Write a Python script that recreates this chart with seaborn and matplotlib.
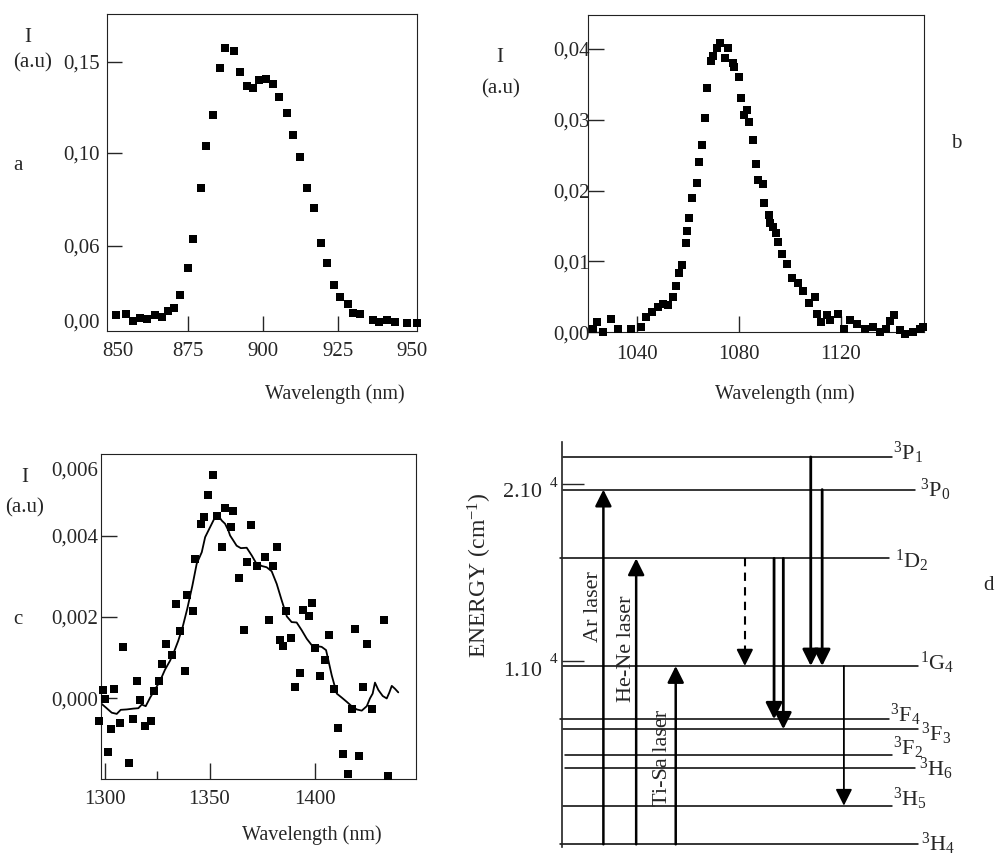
import seaborn as sns
import matplotlib.pyplot as plt

W, H = 996, 858

# ---- panel a : emission 850-950 nm
a_wl = [851.0, 854.3, 856.8, 859.0, 861.2, 864.0, 866.2, 868.4, 870.3, 872.3,
        874.9, 876.8, 879.2, 880.9, 883.4, 885.7, 887.2, 890.2, 892.3, 894.6,
        896.6, 898.8, 901.0, 903.4, 905.4, 907.9, 910.1, 912.3, 914.6, 917.1,
        919.2, 921.4, 923.8, 925.7, 928.2, 930.1, 932.3, 936.6, 938.8, 941.2,
        944.0, 947.9, 951.2]
a_int = [0.0110, 0.0115, 0.0079, 0.0095, 0.0090, 0.0110, 0.0097, 0.0130, 0.0150, 0.0218,
         0.0370, 0.0530, 0.0806, 0.1040, 0.1210, 0.1465, 0.1575, 0.1560, 0.1445, 0.1370,
         0.1360, 0.1400, 0.1405, 0.1377, 0.1310, 0.1220, 0.1097, 0.0980, 0.0806, 0.0696,
         0.0507, 0.0397, 0.0275, 0.0207, 0.0170, 0.0123, 0.0115, 0.0082, 0.0070, 0.0082,
         0.0070, 0.0064, 0.0064]
a_yticks = [0.049, 0.10, 0.15]
a_ylabels = ["0,06", "0,10", "0,15"]

# ---- panel b : emission around 1080 nm
b_wl = [1023.0, 1024.6, 1026.7, 1029.9, 1032.5, 1037.8, 1041.7, 1043.5, 1046.1, 1048.5,
        1050.4, 1052.4, 1054.1, 1055.4, 1056.6, 1057.6, 1059.3, 1059.8, 1060.5, 1061.8,
        1063.5, 1064.5, 1065.5, 1066.8, 1067.7, 1069.1, 1070.0, 1071.4, 1072.7, 1074.6,
        1075.9, 1077.9, 1078.3, 1080.1, 1080.8, 1082.2, 1083.1, 1084.2, 1085.5, 1086.8,
        1087.7, 1089.6, 1089.9, 1091.9, 1092.3, 1093.6, 1094.5, 1095.5, 1096.9, 1098.8,
        1101.0, 1103.1, 1105.3, 1107.6, 1109.9, 1110.6, 1112.2, 1114.5, 1115.8, 1119.1,
        1121.4, 1123.6, 1126.3, 1129.5, 1132.8, 1135.4, 1137.8, 1139.3, 1140.9, 1143.3,
        1145.2, 1148.5, 1151.1, 1152.4]
b_int = [0.0005, 0.0015, 0.0001, 0.0019, 0.0004, 0.0005, 0.0008, 0.0022, 0.0028, 0.0036,
         0.0040, 0.0038, 0.0050, 0.0066, 0.0084, 0.0095, 0.0126, 0.0143, 0.0161, 0.0189,
         0.0211, 0.0241, 0.0264, 0.0303, 0.0345, 0.0383, 0.0390, 0.0401, 0.0408, 0.0387,
         0.0401, 0.0380, 0.0375, 0.0360, 0.0331, 0.0307, 0.0314, 0.0297, 0.0272, 0.0237,
         0.0215, 0.0209, 0.0183, 0.0166, 0.0155, 0.0149, 0.0140, 0.0128, 0.0111, 0.0097,
         0.0077, 0.0069, 0.0058, 0.0041, 0.0050, 0.0026, 0.0014, 0.0024, 0.0017, 0.0026,
         0.0005, 0.0017, 0.0012, 0.0005, 0.0008, 0.0000, 0.0005, 0.0016, 0.0024, 0.0003,
         -0.0002, 0.0001, 0.0004, 0.0007]
b_yticks = [0.0, 0.01, 0.02, 0.03, 0.04]
b_ylabels = ["0,00", "0,01", "0,02", "0,03", "0,04"]

# ---- panel c : weak emission around 1350 nm + smoothed curve
c_wl = [1297.4, 1299.4, 1300.4, 1301.8, 1303.1, 1304.7, 1307.4, 1308.7, 1311.7, 1313.4,
        1315.5, 1317.1, 1319.4, 1322.3, 1323.6, 1326.0, 1327.5, 1329.1, 1332.3, 1334.2,
        1336.0, 1338.3, 1339.4, 1342.3, 1343.2, 1346.0, 1347.5, 1349.4, 1351.5, 1353.7,
        1356.1, 1357.5, 1360.1, 1361.0, 1363.9, 1366.6, 1367.9, 1369.6, 1372.8, 1376.4,
        1378.3, 1380.4, 1382.1, 1383.6, 1384.9, 1386.4, 1388.8, 1390.6, 1393.0, 1394.7,
        1397.4, 1398.7, 1400.4, 1402.6, 1405.1, 1407.0, 1409.1, 1411.3, 1413.4, 1415.8,
        1417.7, 1419.1, 1421.2, 1423.0, 1425.0, 1427.5, 1432.9, 1435.1]
c_int = [-0.00056, 0.00021, -0.00003, -0.00132, -0.00076, 0.00023, -0.00061, 0.00125, -0.00159, -0.00052,
         0.00042, -0.00005, -0.00070, -0.00056, 0.00017, 0.00042, 0.00083, 0.00132, 0.00106, 0.00231,
         0.00166, 0.00066, 0.00253, 0.00214, 0.00343, 0.00429, 0.00445, 0.00500, 0.00549, 0.00447,
         0.00371, 0.00468, 0.00420, 0.00460, 0.00295, 0.00167, 0.00334, 0.00426, 0.00324, 0.00348,
         0.00193, 0.00324, 0.00373, 0.00142, 0.00129, 0.00214, 0.00148, 0.00028, 0.00062, 0.00216,
         0.00201, 0.00235, 0.00124, 0.00055, 0.00093, 0.00156, 0.00023, -0.00074, -0.00137, -0.00187,
         -0.00028, 0.00171, -0.00142, 0.00028, 0.00132, -0.00028, 0.00193, -0.00191]
c_fit_wl = [1298.3, 1301.0, 1303.4, 1305.8, 1307.7, 1310.6, 1313.7, 1316.1, 1317.7, 1319.6,
            1321.7, 1324.0, 1326.4, 1328.8, 1331.2, 1333.1, 1335.1, 1337.2, 1339.4, 1341.8,
            1343.9, 1346.3, 1347.9, 1350.2, 1352.6, 1354.2, 1355.8, 1357.4, 1359.0, 1359.8,
            1361.3, 1362.9, 1364.9, 1367.7, 1370.1, 1372.1, 1374.9, 1377.2, 1379.6, 1382.0,
            1384.4, 1386.8, 1389.1, 1391.5, 1393.9, 1396.3, 1398.7, 1401.0, 1403.4, 1405.5,
            1406.6, 1408.2, 1410.6, 1413.0, 1415.3, 1417.7, 1420.1, 1422.5, 1424.9, 1426.4,
            1427.7, 1428.8, 1430.4, 1432.5, 1434.4, 1435.6, 1436.8, 1438.3, 1439.9]
c_fit_int = [-0.00013, -0.00025, -0.00036, -0.00039, -0.00029, -0.00028, -0.00026, -0.00025, -0.00016, -0.00020,
             0.00001, 0.00021, 0.00042, 0.00070, 0.00092, 0.00114, 0.00141, 0.00175, 0.00220, 0.00276,
             0.00331, 0.00359, 0.00396, 0.00420, 0.00445, 0.00449, 0.00437, 0.00429, 0.00412, 0.00400,
             0.00388, 0.00375, 0.00369, 0.00370, 0.00351, 0.00333, 0.00325, 0.00322, 0.00312, 0.00281,
             0.00240, 0.00201, 0.00187, 0.00186, 0.00167, 0.00146, 0.00130, 0.00128, 0.00126, 0.00118,
             0.00093, 0.00056, 0.00011, 0.00001, -0.00009, -0.00020, -0.00028, -0.00031, -0.00020, -0.00001,
             0.00011, 0.00038, 0.00020, 0.00005, -0.00001, 0.00013, 0.00030, 0.00023, 0.00014]
c_yticks = [0.0, 0.002, 0.004]
c_ylabels = ["0,000", "0,002", "0,004"]

# ---- panel d : energy levels (cm-1)
lvl_names = ["$^{3}$P$_{1}$", "$^{3}$P$_{0}$", "$^{1}$D$_{2}$", "$^{1}$G$_{4}$", "$^{3}$F$_{4}$",
             "$^{3}$F$_{3}$", "$^{3}$F$_{2}$", "$^{3}$H$_{6}$", "$^{3}$H$_{5}$", "$^{3}$H$_{4}$"]
lvl_energy = [21550, 19700, 15800, 9700, 6680, 6110, 4650, 3930, 1780, -410]
lvl_start = [0.3, 0.3, -0.5, 0.3, -0.5, 0.3, 0.9, 0.9, 0.3, -0.5]
lvl_end = [92.6, 99.2, 91.9, 100, 91.9, 100, 92.6, 99.2, 92.6, 100]
# nudge of each level name, in pixels (positive = up / right)
lvl_dy = [4, 0, -3, 3, 4, -5, 7, -1, 7, 0]
lvl_dx = [1, 5, 6, 2, 1, 3, 1, 4, 1, 3]

lasers = ["Ar laser", "He-Ne laser", "Ti-Sa laser"]
laser_x = [11.7, 20.9, 32.0]
laser_to = [1, 2, 3]          # index into levels, all start on 3H4
laser_lab_x = [8.9, 18.2, 28.3]
laser_lab_y = [13061, 10703, 4467]

emis_x = [51.4, 59.6, 62.2, 69.9, 73.1, 79.2]
emis_from = [2, 2, 2, 0, 1, 3]
emis_to = [3, 4, 5, 3, 3, 8]

sns.set_style("ticks")
plt.rcParams['font.family'] = ['Liberation Serif', 'DejaVu Serif']
plt.rcParams['mathtext.fontset'] = 'custom'
plt.rcParams['mathtext.rm'] = 'Liberation Serif'
plt.rcParams['mathtext.it'] = 'Liberation Serif:italic'
plt.rcParams['axes.edgecolor'] = '#222222'

fig = plt.figure(figsize=(W / 100, H / 100), dpi=100)


def ftext(px, py, s, **kw):
    kw.setdefault('ha', 'center')
    kw.setdefault('va', 'center')
    kw.setdefault('fontsize', 15)
    fig.text(px / W, 1 - py / H, s, **kw)


def box(l, t, r, b):
    return fig.add_axes([l / W, 1 - b / H, (r - l) / W, (b - t) / H])


TS = 15
MS = 38

# ---------------- a
ax = box(107, 14, 416.7, 331)
sns.scatterplot(x=a_wl, y=a_int, marker='s', s=MS, color='black', linewidth=0,
                ax=ax, clip_on=False, zorder=3)
ax.set_xlim(848, 951.2)
ax.set_ylim(0.0022, 0.1764)
ax.set_xticks([875, 900, 925])
ax.set_xticks([851.5, 949.5], ["850", "950"], minor=True)
ax.set_yticks(a_yticks, a_ylabels)
ax.set_yticks([0.008], ["0,00"], minor=True)
ax.tick_params(which='major', direction='in', length=11, width=1, labelsize=TS, pad=8)
ax.tick_params(which='minor', length=0, labelsize=TS, pad=8)
ax.tick_params(axis='y', which='both', pad=5)
ftext(28, 38, "I")
ftext(33, 63, "(a.u)")
ftext(18, 166, "a")
ftext(335, 394, "Wavelength (nm)", fontsize=14.5)

# ---------------- b
ax = box(588.3, 15, 924.3, 332.3)
sns.scatterplot(x=b_wl, y=b_int, marker='s', s=MS - 4, color='black', linewidth=0,
                ax=ax, clip_on=False, zorder=3)
ax.set_xlim(1021.0, 1152.8)
ax.set_ylim(0, 0.0448)
ax.set_xticks([1040, 1080, 1120])
ax.set_yticks(b_yticks, b_ylabels)
ax.tick_params(direction='in', length=11.5, width=1, labelsize=TS)
ax.tick_params(axis='x', pad=9)
ax.tick_params(axis='y', pad=-1)
ftext(500, 58, "I")
ftext(501, 89, "(a.u)")
ftext(956, 143, "b")
ftext(785, 394, "Wavelength (nm)", fontsize=14.5)

# ---------------- c
ax = box(101, 454.3, 415.7, 779.3)
sns.scatterplot(x=c_wl, y=c_int, marker='s', s=MS, color='black', linewidth=0,
                ax=ax, clip_on=False, zorder=3)
sns.lineplot(x=c_fit_wl, y=c_fit_int, color='black', lw=1.3, ax=ax,
             estimator=None, sort=False)
ax.set_xlim(1298.3, 1448.2)
ax.set_ylim(-0.002, 0.006)
ax.set_xticks([1300, 1350, 1400])
ax.set_xticks([1325], minor=True)
ax.set_yticks(c_yticks, c_ylabels)
ax.set_yticks([0.00564], ["0,006"], minor=True)
ax.tick_params(which='major', direction='in', length=11.5, width=1, labelsize=TS)
ax.tick_params(axis='x', which='minor', direction='in', length=6, width=1)
ax.tick_params(axis='y', which='minor', length=0, labelsize=TS)
ax.tick_params(axis='x', which='both', pad=8)
ax.tick_params(axis='y', which='both', pad=2)
ftext(25, 478, "I")
ftext(25, 508, "(a.u)")
ftext(18, 620, "c")
ftext(312, 835, "Wavelength (nm)", fontsize=14.5)

# ---------------- d
ax = box(561.7, 441.7, 918, 846.7)
ax.set_xlim(0, 100)
ax.set_ylim(-545, 22415)
for s in ['top', 'right', 'bottom']:
    ax.spines[s].set_visible(False)
ax.spines['left'].set_linewidth(1.2)
ax.set_xticks([])
ax.set_yticks([10000, 20000], ["", ""])
ax.tick_params(axis='y', direction='in', length=15.5, width=1)

for name, e, x0, x1, dx, dy in zip(lvl_names, lvl_energy, lvl_start, lvl_end, lvl_dx, lvl_dy):
    ax.plot([x0, x1], [e, e], color='black', lw=1.1, clip_on=False)
    ax.annotate(name, xy=(x1, e), xytext=(dx * 0.72, dy * 0.72), textcoords='offset points',
                fontsize=16, ha='left', va='center', annotation_clip=False)

head = dict(arrowstyle='-|>,head_length=0.5,head_width=0.25', color='black',
            mutation_scale=20, shrinkA=0, shrinkB=0)

for name, x, j, lx, ly in zip(lasers, laser_x, laser_to, laser_lab_x, laser_lab_y):
    ax.annotate("", xy=(x, lvl_energy[j]), xytext=(x, lvl_energy[-1]),
                arrowprops=dict(head, lw=1.8))
    ax.text(lx, ly, name, rotation=90, fontsize=16, ha='center', va='center')

for k, (x, i, j) in enumerate(zip(emis_x, emis_from, emis_to)):
    e0, e1 = lvl_energy[i], lvl_energy[j]
    if k == 0:
        # dashed non-radiative step
        ax.plot([x, x], [e0, e1 + 700], color='black', lw=1.5, ls=(0, (4, 3)))
        ax.annotate("", xy=(x, e1), xytext=(x, e1 + 800),
                    arrowprops=dict(head, lw=1.5))
    else:
        lw = 1.3 if k == 5 else 2.0
        ax.annotate("", xy=(x, e1), xytext=(x, e0),
                    arrowprops=dict(head, lw=lw))

yax = ax.get_yaxis_transform()
ax.text(-0.056, 19507, "2.10", transform=yax, ha='right', va='center', fontsize=TS + 1)
ax.text(-0.024, 20073, "4", transform=yax, ha='center', va='center', fontsize=11)
ax.text(-0.056, 9376, "1.10", transform=yax, ha='right', va='center', fontsize=TS + 1)
ax.text(-0.024, 10040, "4", transform=yax, ha='center', va='center', fontsize=11)
ax.text(-0.229, 14875, "ENERGY (cm$^{-1}$)", transform=yax, rotation=90,
        ha='center', va='center', fontsize=17)
ftext(988, 585, "d")

fig.savefig("out.png", dpi=100)
